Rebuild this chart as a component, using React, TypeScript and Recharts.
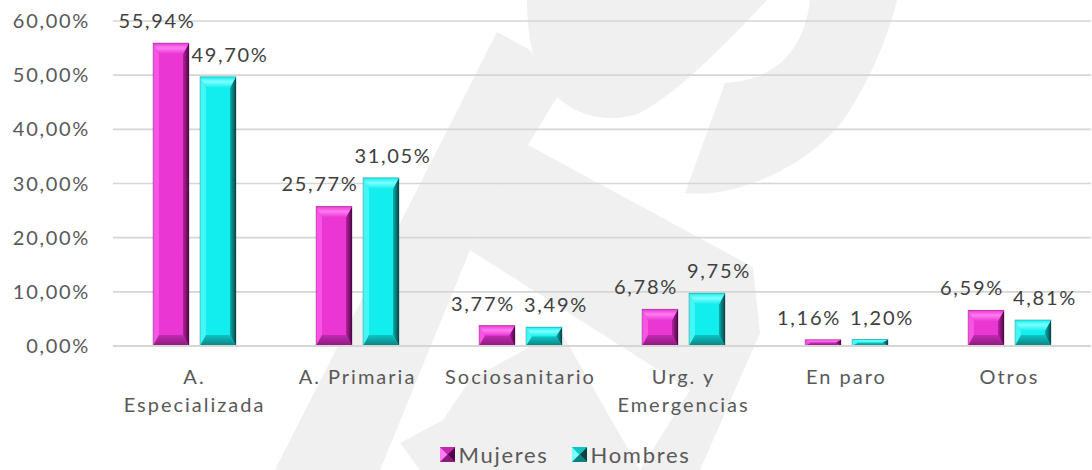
import React from 'react';
import { BarChart, Bar, XAxis, YAxis, CartesianGrid, Legend, LabelList } from 'recharts';

const categories = ['A.\nEspecializada', 'A. Primaria', 'Sociosanitario', 'Urg. y\nEmergencias', 'En paro', 'Otros'];
const mujeres = [55.94, 25.77, 3.77, 6.78, 1.16, 6.59];
const hombres = [49.7, 31.05, 3.49, 9.75, 1.2, 4.81];
const yTicks = [0, 10, 20, 30, 40, 50, 60];
const seriesNames = ['Mujeres', 'Hombres'];

const data = categories.map((c, i) => ({ name: c, Mujeres: mujeres[i], Hombres: hombres[i] }));

const FONT = 'Lato, "Open Sans", sans-serif';
const TEXT = '#595959';

type Pal = { face: string; top: string; left: string; r0: string; r1: string; b0: string; b1: string };
const PALETTE: Record<string, Pal> = {
  Mujeres: { face: '#EA36D2', top: '#FF7CF2', left: '#F654E2', r0: '#B5239F', r1: '#4E0646', b0: '#C22AAE', b1: '#8A1A7C' },
  Hombres: { face: '#12EEEE', top: '#7DFFFF', left: '#45F6F6', r0: '#0BAFAF', r1: '#064444', b0: '#0EC4C4', b1: '#0A8080' },
};

const fmt = (v: number) => v.toFixed(2).replace('.', ',') + '%';

function bevelParts(x: number, y: number, w: number, h: number, s: string) {
  const c = PALETTE[s];
  const bs = Math.min(6, w / 2);
  const bt = Math.min(11, h / 2);
  return (
    <g>
      <rect x={x} y={y} width={w} height={h} fill={c.face} />
      <polygon points={`${x},${y} ${x + bs},${y + bt} ${x + bs},${y + h - bt} ${x},${y + h}`} fill={c.left} />
      <polygon points={`${x + w},${y} ${x + w},${y + h} ${x + w - bs},${y + h - bt} ${x + w - bs},${y + bt}`} fill={`url(#${s}-right)`} />
      <polygon points={`${x},${y} ${x + w},${y} ${x + w - bs},${y + bt} ${x + bs},${y + bt}`} fill={`url(#${s}-top)`} />
      <polygon points={`${x},${y + h} ${x + w},${y + h} ${x + w - bs},${y + h - bt} ${x + bs},${y + h - bt}`} fill={`url(#${s}-bottom)`} />
      <rect x={x} y={y} width={w} height={h} fill="none" stroke={c.r1} strokeOpacity={0.35} strokeWidth={0.8} />
    </g>
  );
}

const makeShape = (series: string) => (props: any) => {
  const { x, y, width, height } = props;
  if (!height || height <= 0) return <g />;
  return bevelParts(x, y, width, height, series);
};

const makeLabel = (dx: number) => (props: any) => {
  const { x, y, width, value } = props;
  return (
    <text x={x + width / 2 + dx} y={y - 15} textAnchor="middle" fill="#404040" fontSize={20} letterSpacing={1.7} fontFamily={FONT}>
      {fmt(value)}
    </text>
  );
};

const XTick = (props: any) => {
  const { x, y, payload } = props;
  const lines = String(payload.value).split('\n');
  return (
    <text x={x} y={y + 30} textAnchor="middle" fill={TEXT} fontSize={20} letterSpacing={2} fontFamily={FONT}>
      {lines.map((l, i) => (
        <tspan key={i} x={x} dy={i === 0 ? 0 : 28}>{l}</tspan>
      ))}
    </text>
  );
};

const LegendContent = () => (
  <div style={{ display: 'flex', justifyContent: 'center', alignItems: 'center', fontFamily: FONT, fontSize: 22, letterSpacing: 1.7, color: TEXT, paddingLeft: 38 }}>
    {seriesNames.map((s, i) => {
      const c = PALETTE[s];
      return (
        <div key={s} style={{ display: 'flex', alignItems: 'center', marginLeft: i === 0 ? 0 : 23 }}>
          <svg width={15} height={15} style={{ marginRight: 4 }}>
            <rect x={0} y={0} width={15} height={15} fill={c.face} />
            <polygon points="0,0 7.5,7.5 0,15" fill={c.top} />
            <polygon points="15,0 7.5,7.5 15,15" fill={c.r1} />
            <polygon points="0,0 15,0 7.5,7.5" fill={c.b0} />
            <polygon points="0,15 7.5,7.5 15,15" fill={c.b1} />
          </svg>
          <span>{s}</span>
        </div>
      );
    })}
  </div>
);

const WM = '#f0f0f0';
const Watermark = () => (
  <svg width={1092} height={470} style={{ position: 'absolute', left: 0, top: 0 }}>
    <polygon fill={WM} points="497,32 530,50 557,97 528,145 470,250 380,470 275,470" />
    <path fill={WM} d="M527,0 C527,40 535,80 557,97 C580,118 610,122 635,115 C670,100 720,50 767,0 Z" />
    <path fill={WM} d="M810,0 C805,45 780,80 725,83 L685,193 C740,200 820,160 850,110 C875,70 890,30 897,0 Z" />
    <polygon fill={WM} points="528,145 753,267 760,333 700,470 640,470 690,390 470,250" />
    <polygon fill={WM} points="443,420 470,380 560,330 640,470 420,470 400,443" />
  </svg>
);

export default function App() {
  return (
    <div style={{ position: 'absolute', left: 0, top: 0, width: 1092, height: 470, background: '#ffffff', overflow: 'hidden' }}>
      <Watermark />
      <div style={{ position: 'absolute', left: 0, top: 0 }}>
        <BarChart
          width={1092}
          height={470}
          data={data}
          margin={{ top: 21, right: 1, left: 0, bottom: 0 }}
          barSize={36}
          barGap={11}
        >
          <defs>
            {seriesNames.map((s) => {
              const c = PALETTE[s];
              return (
                <React.Fragment key={s}>
                  <linearGradient id={`${s}-top`} x1="0" y1="0" x2="0" y2="1">
                    <stop offset="0" stopColor={c.face} />
                    <stop offset="0.45" stopColor={c.top} />
                    <stop offset="1" stopColor={c.face} />
                  </linearGradient>
                  <linearGradient id={`${s}-right`} x1="0" y1="0" x2="1" y2="0">
                    <stop offset="0" stopColor={c.r0} />
                    <stop offset="1" stopColor={c.r1} />
                  </linearGradient>
                  <linearGradient id={`${s}-bottom`} x1="0" y1="0" x2="0" y2="1">
                    <stop offset="0" stopColor={c.b0} />
                    <stop offset="1" stopColor={c.b1} />
                  </linearGradient>
                </React.Fragment>
              );
            })}
          </defs>
          <CartesianGrid vertical={false} stroke="#d6d6d6" strokeWidth={1.6} />
          <XAxis
            dataKey="name"
            height={124}
            tick={<XTick />}
            tickLine={false}
            axisLine={{ stroke: '#d6d6d6', strokeWidth: 2 }}
            interval={0}
          />
          <YAxis
            width={113}
            domain={[0, 60]}
            ticks={yTicks}
            tickFormatter={fmt}
            tickLine={false}
            axisLine={false}
            tickMargin={17}
            tick={{ fill: TEXT, fontSize: 20, fontFamily: FONT, letterSpacing: 1.7 }}
          />
          <Legend
            verticalAlign="middle"
            layout="horizontal"
            content={<LegendContent />}
            wrapperStyle={{ position: 'absolute', top: 441, left: 0, width: 1092 }}
          />
          <Bar dataKey="Mujeres" isAnimationActive={false} shape={makeShape('Mujeres')}>
            <LabelList dataKey="Mujeres" content={makeLabel(-14)} />
          </Bar>
          <Bar dataKey="Hombres" isAnimationActive={false} shape={makeShape('Hombres')}>
            <LabelList dataKey="Hombres" content={makeLabel(12)} />
          </Bar>
        </BarChart>
      </div>
    </div>
  );
}
